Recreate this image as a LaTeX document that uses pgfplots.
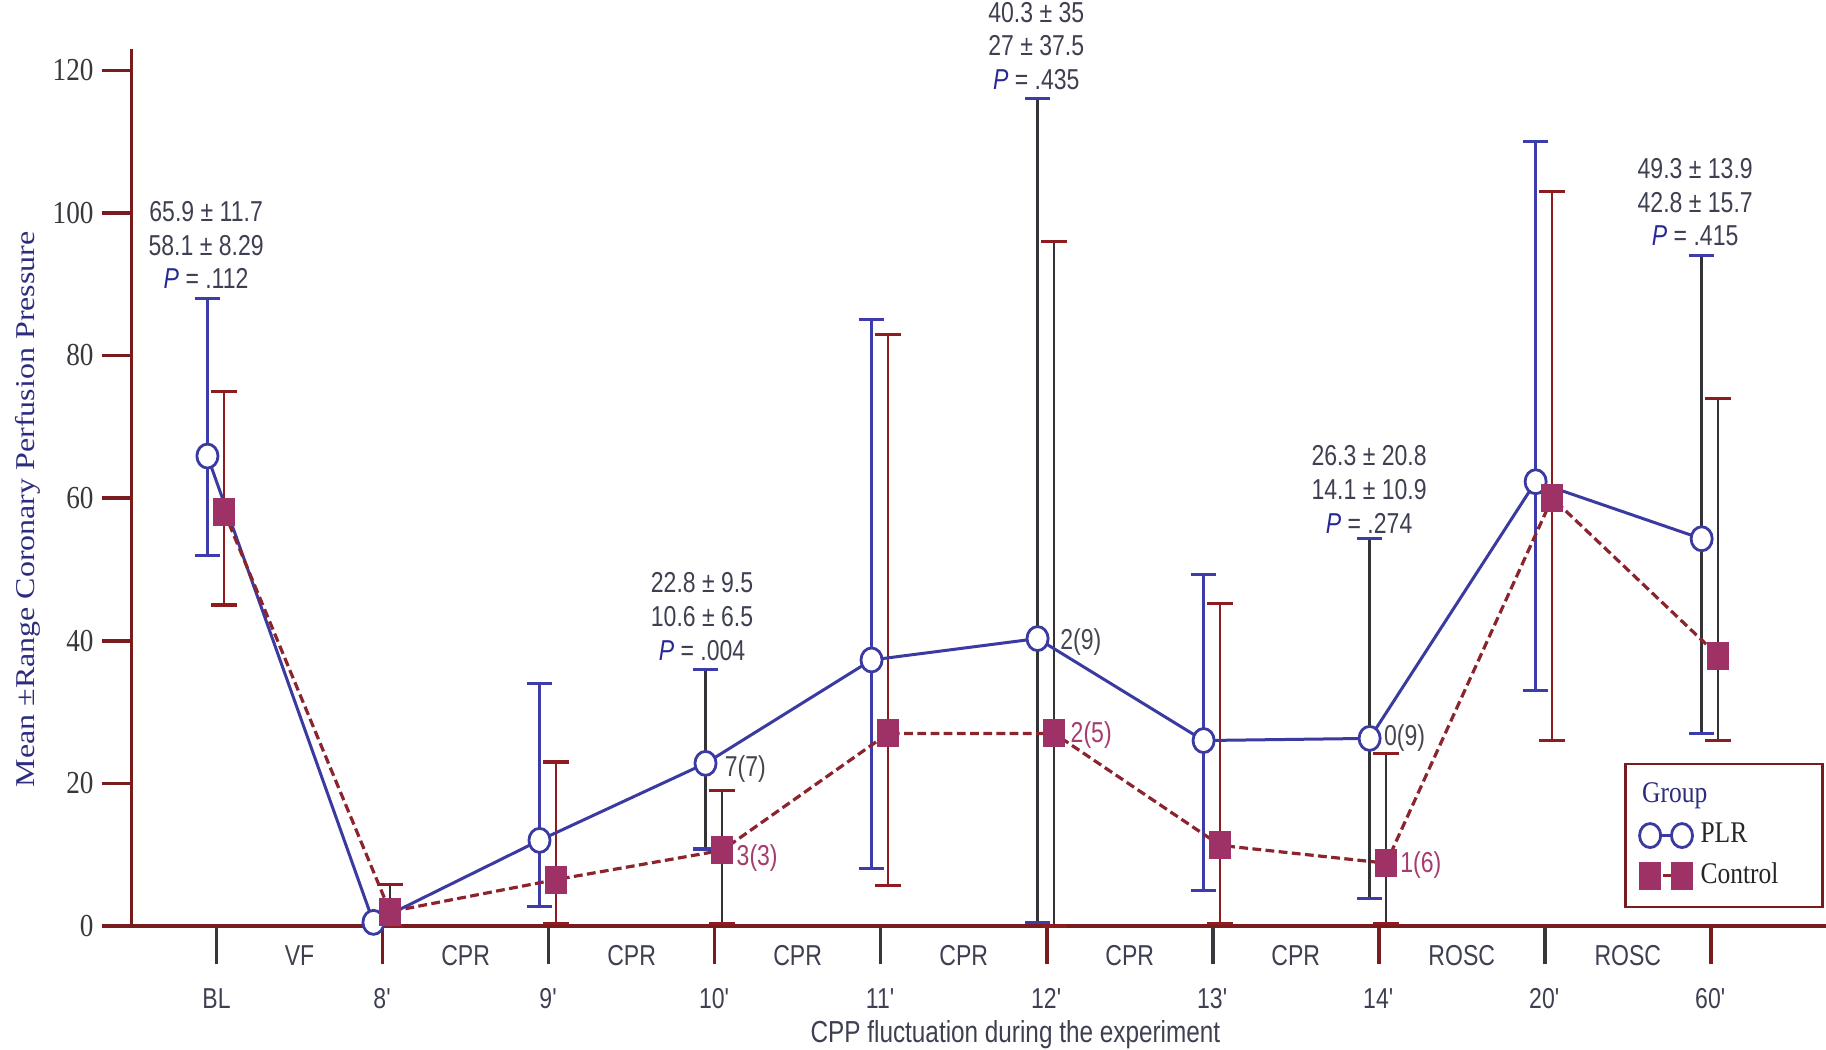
\documentclass[border=0pt]{standalone}
\usepackage{fontspec}
\setmainfont{Liberation Serif}[FakeStretch=0.85]
\newfontfamily\ylabfont{Liberation Serif}
\newfontfamily\annfont{Liberation Sans}[FakeStretch=0.8]
\usepackage{pgfplots}
\usepackage{pgfplotstable}
\pgfplotsset{compat=1.18}

\definecolor{axred}{RGB}{122,28,30}
\definecolor{tickgray}{RGB}{55,55,60}
\definecolor{plrblue}{RGB}{58,58,160}
\definecolor{plrbar}{RGB}{60,60,170}
\definecolor{ctrlline}{RGB}{140,36,46}
\definecolor{ctrlfill}{RGB}{158,50,102}
\definecolor{ctrlbar}{RGB}{140,28,32}
\definecolor{darkbar}{RGB}{50,50,55}
\definecolor{anntext}{RGB}{62,64,82}
\definecolor{pblue}{RGB}{40,40,150}
\definecolor{ylabcol}{RGB}{45,45,125}
\definecolor{cntgray}{RGB}{70,70,80}
\definecolor{cntred}{RGB}{165,60,110}

\newcommand{\af}{\annfont\fontsize{7.2}{8.45}\selectfont}
\newcommand{\q}{\textquotesingle}

\pgfplotsset{
  twomark legend/.style={legend image code/.code={\draw[##1] plot coordinates {(0cm,0cm) (0.28cm,0cm)};}},
}

\pgfplotstableread{
x y ep em
0 65.9 22.1 13.9
1 0.5 0 0
2 12.0 22.0 9.3
3 22.8 13.2 12.0
4 37.3 47.7 29.3
5 40.3 75.7 39.8
6 26.0 23.3 21.0
7 26.3 28.0 22.5
8 62.3 47.7 29.3
9 54.3 39.7 27.3
}\plrdata
\pgfplotstableread{
x y ep em
0 58.1 16.9 13.1
1 2.0 3.8 2.0
2 6.5 16.5 6.2
3 10.6 8.4 10.3
4 27.0 56.0 21.3
5 27.0 69.0 27.0
6 11.3 33.9 11.0
7 8.8 15.4 8.5
8 60.0 43.0 34.0
9 37.9 36.1 11.9
}\ctrldata

\begin{document}
\begin{tikzpicture}
\begin{axis}[
  name=ax,
  scale only axis,
  width=423.7pt, height=219.3pt,
  xmin=-0.512, xmax=9.694,
  ymin=0, ymax=123,
  clip=false,
  axis lines=left,
  axis line style={-, draw=axred, line width=0.9pt},
  tick align=outside,
  /pgf/number format/assume math mode=true,
  major tick length=9.6pt,
  minor tick length=3.8pt,
  ytick=\empty,
  minor ytick={10,30,...,110},
  extra y ticks={0,20,...,120},
  extra y tick style={major tick length=7.5pt, y tick style={draw=axred, line width=0.9pt}},
  y tick style={draw=axred, line width=0.9pt},
  yticklabel style={font=\fontsize{8}{9}\selectfont, text=tickgray, xshift=1.5pt},
  xtick={0,2,4,6,8},
  xticklabels={BL,9\q,11\q,13\q,20\q},
  extra x ticks={1,3,5,7,9},
  extra x tick labels={8\q,10\q,12\q,14\q,60\q},
  x tick style={draw=tickgray, line width=0.9pt},
  extra x tick style={x tick style={draw=axred, line width=0.9pt}},
  xticklabel style={font=\af, text=anntext, yshift=-2.6pt},
  xlabel={CPP fluctuation during the experiment},
  xlabel style={at={(axis description cs:0.5216,-0.1236)}, anchor=center, font=\annfont\fontsize{7.6}{9}\selectfont, text=anntext},
  ylabel={\scalebox{1}[0.85]{Mean ±Range  Coronary Perfusion Pressure}},
  ylabel style={at={(axis description cs:-0.061,0.475)}, anchor=center, font=\ylabfont\fontsize{8}{9}\selectfont, text=ylabcol},
  legend style={at={(0.9986,0.02)}, anchor=south east, draw=axred, line width=0.6pt, fill=white,
    font=\fontsize{7.5}{9}\selectfont, text=black!85, row sep=0.5pt, inner xsep=3.5pt, inner ysep=3pt,
    nodes={inner ysep=1.5pt}},
  legend cell align=left,
]
% error bars: PLR
\addplot[forget plot, only marks, mark=none,
  x filter/.expression={mod(\coordindex,2)==0 ? x : nan},
  error bars/.cd, y dir=both, y explicit,
  error bar style={line width=0.6pt, draw=plrbar},
  error mark options={rotate=90, mark size=3.2pt, line width=0.8pt, draw=plrbar}]
  table[x expr=\thisrow{x}-0.055, y=y, y error plus=ep, y error minus=em] {\plrdata};
\addplot[forget plot, only marks, mark=none,
  x filter/.expression={((mod(\coordindex,2)==1) && (\coordindex>1)) ? x : nan},
  error bars/.cd, y dir=both, y explicit,
  error bar style={line width=0.6pt, draw=darkbar},
  error mark options={rotate=90, mark size=3.2pt, line width=0.8pt, draw=plrbar}]
  table[x expr=\thisrow{x}-0.055, y=y, y error plus=ep, y error minus=em] {\plrdata};
% error bars: Control
\addplot[forget plot, only marks, mark=none,
  x filter/.expression={mod(\coordindex,2)==0 ? x : nan},
  error bars/.cd, y dir=both, y explicit,
  error bar style={line width=0.6pt, draw=ctrlbar},
  error mark options={rotate=90, mark size=3.2pt, line width=0.8pt, draw=ctrlbar}]
  table[x expr=\thisrow{x}+0.045, y=y, y error plus=ep, y error minus=em] {\ctrldata};
\addplot[forget plot, only marks, mark=none,
  x filter/.expression={mod(\coordindex,2)==1 ? x : nan},
  error bars/.cd, y dir=both, y explicit,
  error bar style={line width=0.6pt, draw=darkbar},
  error mark options={rotate=90, mark size=3.2pt, line width=0.8pt, draw=ctrlbar}]
  table[x expr=\thisrow{x}+0.045, y=y, y error plus=ep, y error minus=em] {\ctrldata};

\addlegendimage{legend image code/.code={\path[draw=none, fill=none] (0cm,-0.17cm) rectangle (0.28cm,0.17cm);
  \node[overlay, anchor=west, inner sep=0pt, text=ylabcol] at (-0.08cm,0) {Group};}}
\addlegendentry{}

% lines
\addplot[draw=plrblue, line width=0.75pt, mark=*, mark size=3.0pt,
  mark options={fill=white, draw=plrblue, line width=0.7pt, xscale=0.88, solid}, twomark legend]
  table[x expr=\thisrow{x}-0.055, y=y] {\plrdata};
\addlegendentry{PLR}
\addplot[draw=ctrlline, line width=0.8pt, dash pattern=on 2.2pt off 1.1pt, mark=square*, mark size=3.1pt,
  mark options={fill=ctrlfill, draw=ctrlfill, xscale=0.75, solid}, twomark legend]
  table[x expr=\thisrow{x}+0.045, y=y] {\ctrldata};
\addlegendentry{\mbox{Control\hspace*{5.5pt}}}

% phase labels
\node[font=\af, text=anntext, yshift=-7.3pt] at (axis cs:0.5,0) {VF};
\node[font=\af, text=anntext, yshift=-7.3pt] at (axis cs:1.5,0) {CPR};
\node[font=\af, text=anntext, yshift=-7.3pt] at (axis cs:2.5,0) {CPR};
\node[font=\af, text=anntext, yshift=-7.3pt] at (axis cs:3.5,0) {CPR};
\node[font=\af, text=anntext, yshift=-7.3pt] at (axis cs:4.5,0) {CPR};
\node[font=\af, text=anntext, yshift=-7.3pt] at (axis cs:5.5,0) {CPR};
\node[font=\af, text=anntext, yshift=-7.3pt] at (axis cs:6.5,0) {CPR};
\node[font=\af, text=anntext, yshift=-7.3pt] at (axis cs:7.5,0) {ROSC};
\node[font=\af, text=anntext, yshift=-7.3pt] at (axis cs:8.5,0) {ROSC};

% annotations
\node[font=\af, text=anntext, align=center, inner sep=0pt] at (axis cs:-0.063,95.5)
  {65.9 ± 11.7\\58.1 ± 8.29\\\textcolor{pblue}{\textit{P}} = .112};
\node[font=\af, text=anntext, align=center, inner sep=0pt] at (axis cs:2.924,43.4)
  {22.8 ± 9.5\\10.6 ± 6.5\\\textcolor{pblue}{\textit{P}} = .004};
\node[font=\af, text=anntext, align=center, inner sep=0pt] at (axis cs:4.937,123.4)
  {40.3 ± 35\\27 ± 37.5\\\textcolor{pblue}{\textit{P}} = .435};
\node[font=\af, text=anntext, align=center, inner sep=0pt] at (axis cs:6.942,61.2)
  {26.3 ± 20.8\\14.1 ± 10.9\\\textcolor{pblue}{\textit{P}} = .274};
\node[font=\af, text=anntext, align=center, inner sep=0pt] at (axis cs:8.906,101.5)
  {49.3 ± 13.9\\42.8 ± 15.7\\\textcolor{pblue}{\textit{P}} = .415};

% counts
\node[font=\af, text=cntgray, anchor=west, inner sep=0pt] at (axis cs:3.057,22.0) {7(7)};
\node[font=\af, text=cntred, anchor=west, inner sep=0pt] at (axis cs:3.128,9.5) {3(3)};
\node[font=\af, text=cntgray, anchor=west, inner sep=0pt] at (axis cs:5.077,39.8) {2(9)};
\node[font=\af, text=cntred, anchor=west, inner sep=0pt] at (axis cs:5.140,26.8) {2(5)};
\node[font=\af, text=cntgray, anchor=west, inner sep=0pt] at (axis cs:7.027,26.4) {0(9)};
\node[font=\af, text=cntred, anchor=west, inner sep=0pt] at (axis cs:7.125,8.5) {1(6)};
\end{axis}
\pgfresetboundingbox
\path[use as bounding box] ([xshift=-32.9pt, yshift=-30.87pt]ax.south west) rectangle ([yshift=12.23pt]ax.north east);
\end{tikzpicture}
\end{document}
